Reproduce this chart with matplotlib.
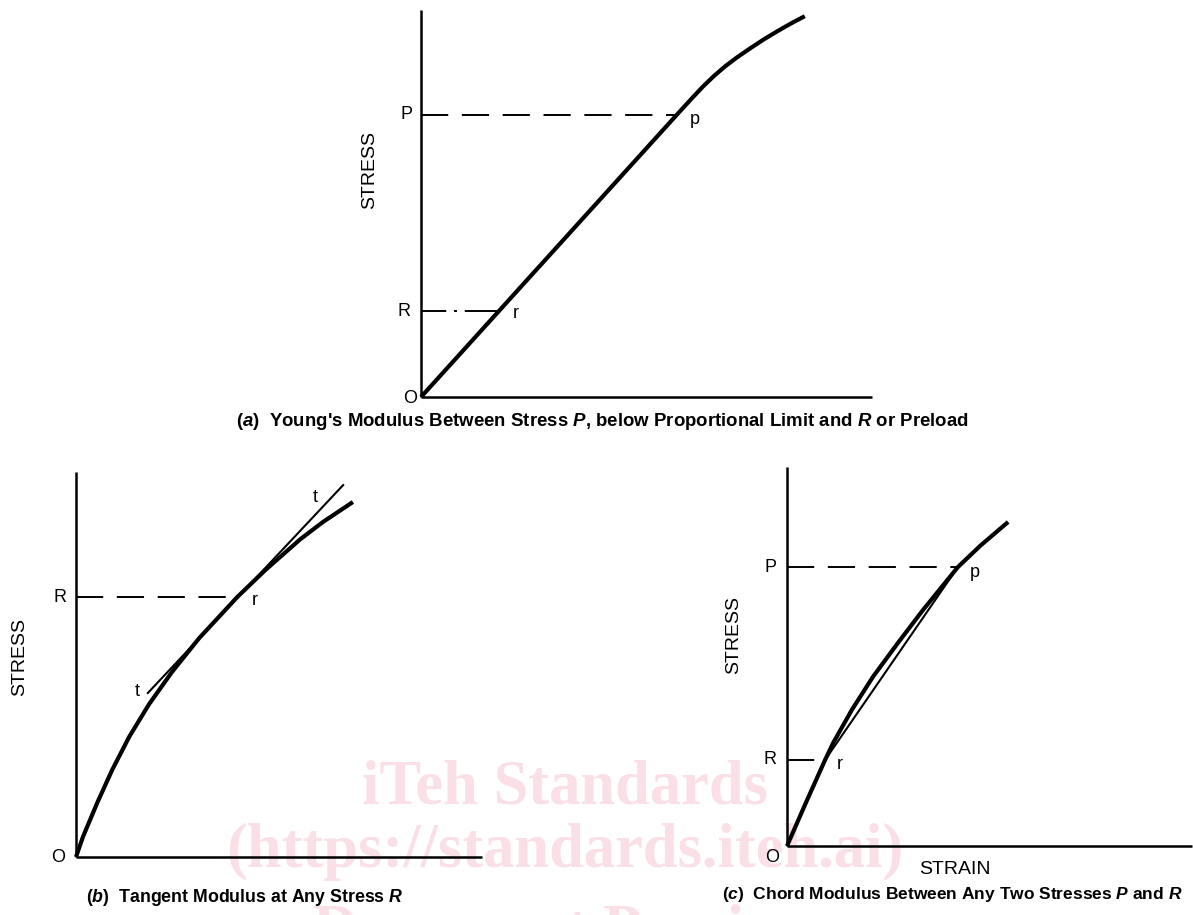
import matplotlib
matplotlib.use('Agg')
import matplotlib.pyplot as plt

# ---------------- data (strain / stress, arbitrary units, axes span 0-10) ----------------
# (a) Young's modulus
a_strain = [0, 5.67, 6.00, 6.25, 6.50, 6.75, 7.00, 7.30, 7.60, 7.90, 8.20, 8.51]
a_stress = [0, 7.29, 7.71, 8.02, 8.30, 8.55, 8.77, 9.01, 9.24, 9.45, 9.65, 9.84]
a_P, a_p_strain = 7.29, 5.67
a_R, a_r_strain = 2.22, 1.73

# (b) tangent modulus
b_strain = [0, 0.17, 0.52, 0.89, 1.31, 1.80, 2.36, 3.03, 3.97, 4.66, 5.52, 6.08, 6.82]
b_stress = [0, 0.52, 1.40, 2.26, 3.12, 3.97, 4.80, 5.68, 6.75, 7.45, 8.25, 8.70, 9.22]
b_R, b_r_strain = 6.75, 3.97
b_tan_strain = [1.77, 6.58]
b_tan_stress = [4.26, 9.66]
b_t_labels = [(1.50, 4.29), (5.89, 9.35)]

# (c) chord modulus
c_strain = [0, 0.47, 0.94, 1.14, 1.60, 2.12, 2.74, 3.36, 4.22, 4.77, 5.46]
c_stress = [0, 1.15, 2.27, 2.72, 3.59, 4.46, 5.36, 6.23, 7.36, 7.92, 8.55]
c_P, c_p_strain = 7.36, 4.22
c_R, c_r_strain = 2.27, 0.94

captions = [
    r"($a$)  Young's Modulus Between Stress $P$, below Proportional Limit and $R$ or Preload",
    r"($b$)  Tangent Modulus at Any Stress $R$",
    r"($c$)  Chord Modulus Between Any Two Stresses $P$ and $R$",
]
watermark = ["iTeh Standards", "(https://standards.iteh.ai)", "Document Preview"]

# ---------------- style ----------------
W, H, DPI = 1193, 915, 100
plt.rcParams['font.family'] = ['Liberation Sans', 'DejaVu Sans']
plt.rcParams['mathtext.fontset'] = 'custom'
plt.rcParams['mathtext.rm'] = 'Liberation Sans:bold'
plt.rcParams['mathtext.bf'] = 'Liberation Sans:bold'
plt.rcParams['mathtext.it'] = 'Liberation Sans:italic:bold'

CURVE_LW = 3.0
AXIS_LW = 1.8
DASH_LW = 1.4
THIN_LW = 1.5
LBL = 13
PX = 0.72  # points per pixel at 100 dpi

fig = plt.figure(figsize=(W / DPI, H / DPI), dpi=DPI)
fig.patch.set_facecolor('white')


def px_axes(x0, y0, x1, y1):
    """Axes whose origin is at pixel (x0, y0) and whose far corner is (x1, y1)."""
    ax = fig.add_axes([x0 / W, 1 - y0 / H, (x1 - x0) / W, (y0 - y1) / H])
    ax.set_xlim(0, 10)
    ax.set_ylim(0, 10)
    ax.patch.set_visible(False)
    for s in ('top', 'right'):
        ax.spines[s].set_visible(False)
    for s in ('left', 'bottom'):
        ax.spines[s].set_linewidth(AXIS_LW)
        ax.spines[s].set_color('black')
        ax.spines[s].set_capstyle('butt')
    ax.set_xticks([])
    ax.set_yticks([])
    return ax


def lbl(ax, s, xy, dx, dy, size=LBL):
    ax.annotate(s, xy=xy, xytext=(dx * PX, -dy * PX), textcoords='offset points',
                ha='center', va='center', fontsize=size, color='black',
                annotation_clip=False)


DASHED = (0, (14, 7))
DASHDOT = (0, (13, 4, 1.5, 4, 22, 4))

# ---------- watermark (behind everything) ----------
for txt, base in zip(watermark, [803, 867, 948]):
    fig.text(565 / W, 1 - base / H, txt, ha='center', va='baseline',
             fontsize=45, fontfamily='Liberation Serif', fontweight='bold',
             color='#fae0e6', zorder=-5)

# ---------- (a) ----------
axa = px_axes(421, 397, 872, 10)
axa.plot(a_strain, a_stress, color='black', lw=CURVE_LW, clip_on=False,
         solid_joinstyle='round', solid_capstyle='butt')
axa.plot([0, a_p_strain], [a_P, a_P], color='black', lw=DASH_LW, linestyle=DASHED)
axa.plot([0, a_r_strain], [a_R, a_R], color='black', lw=DASH_LW, linestyle=DASHDOT)
lbl(axa, 'P', (0, a_P), -15, 0)
lbl(axa, 'R', (0, a_R), -17, 0)
lbl(axa, 'O', (0, 0), -11, 1)
lbl(axa, 'p', (a_p_strain, a_P), 18, 5)
lbl(axa, 'r', (a_r_strain, a_R), 17, 2)
axa.text(-0.113, 0.587, 'STRESS', transform=axa.transAxes, rotation=90,
         ha='center', va='center', fontsize=14)

# ---------- (b) ----------
axb = px_axes(76, 857, 482, 472)
axb.plot(b_strain, b_stress, color='black', lw=CURVE_LW, clip_on=False,
         solid_joinstyle='round', solid_capstyle='butt')
axb.plot(b_tan_strain, b_tan_stress, color='black', lw=THIN_LW, clip_on=False)
axb.plot([0, b_r_strain], [b_R, b_R], color='black', lw=DASH_LW, linestyle=DASHED)
lbl(axb, 'R', (0, b_R), -16, 0)
lbl(axb, 'O', (0, 0), -18, 1)
lbl(axb, 'r', (b_r_strain, b_R), 18, 3)
for (tx, ty) in b_t_labels:
    lbl(axb, 't', (tx, ty), 0, 0)
axb.text(-0.138, 0.519, 'STRESS', transform=axb.transAxes, rotation=90,
         ha='center', va='center', fontsize=14)

# ---------- (c) ----------
axc = px_axes(787, 846, 1192, 467)
axc.plot(c_strain, c_stress, color='black', lw=CURVE_LW, clip_on=False,
         solid_joinstyle='round', solid_capstyle='butt')
axc.plot([c_r_strain, c_p_strain], [c_R, c_P], color='black', lw=THIN_LW)
axc.plot([0, c_p_strain], [c_P, c_P], color='black', lw=DASH_LW, linestyle=DASHED)
axc.plot([0, c_r_strain], [c_R, c_R], color='black', lw=DASH_LW, linestyle=DASHED)
lbl(axc, 'P', (0, c_P), -17, 0)
lbl(axc, 'R', (0, c_R), -17, 0)
lbl(axc, 'O', (0, 0), -15, 12)
lbl(axc, 'p', (c_p_strain, c_P), 17, 5)
lbl(axc, 'r', (c_r_strain, c_R), 15, 5)
axc.text(-0.131, 0.557, 'STRESS', transform=axc.transAxes, rotation=90,
         ha='center', va='center', fontsize=14)
axc.text(0.415, -0.063, 'STRAIN', transform=axc.transAxes,
         ha='center', va='center', fontsize=14)

# ---------- captions (fitted to the original widths) ----------
cap_pos = [(602, 421, 730), (244.5, 897, 317), (952, 895, 461)]
renderer = fig.canvas.get_renderer()
for s, (cx, cy, tw) in zip(captions, cap_pos):
    t = fig.text(cx / W, 1 - cy / H, s, ha='center', va='center',
                 fontsize=12, fontweight='bold')
    w = t.get_window_extent(renderer).width
    t.set_fontsize(12 * tw / w)

fig.savefig('out.png', dpi=DPI, facecolor='white')
